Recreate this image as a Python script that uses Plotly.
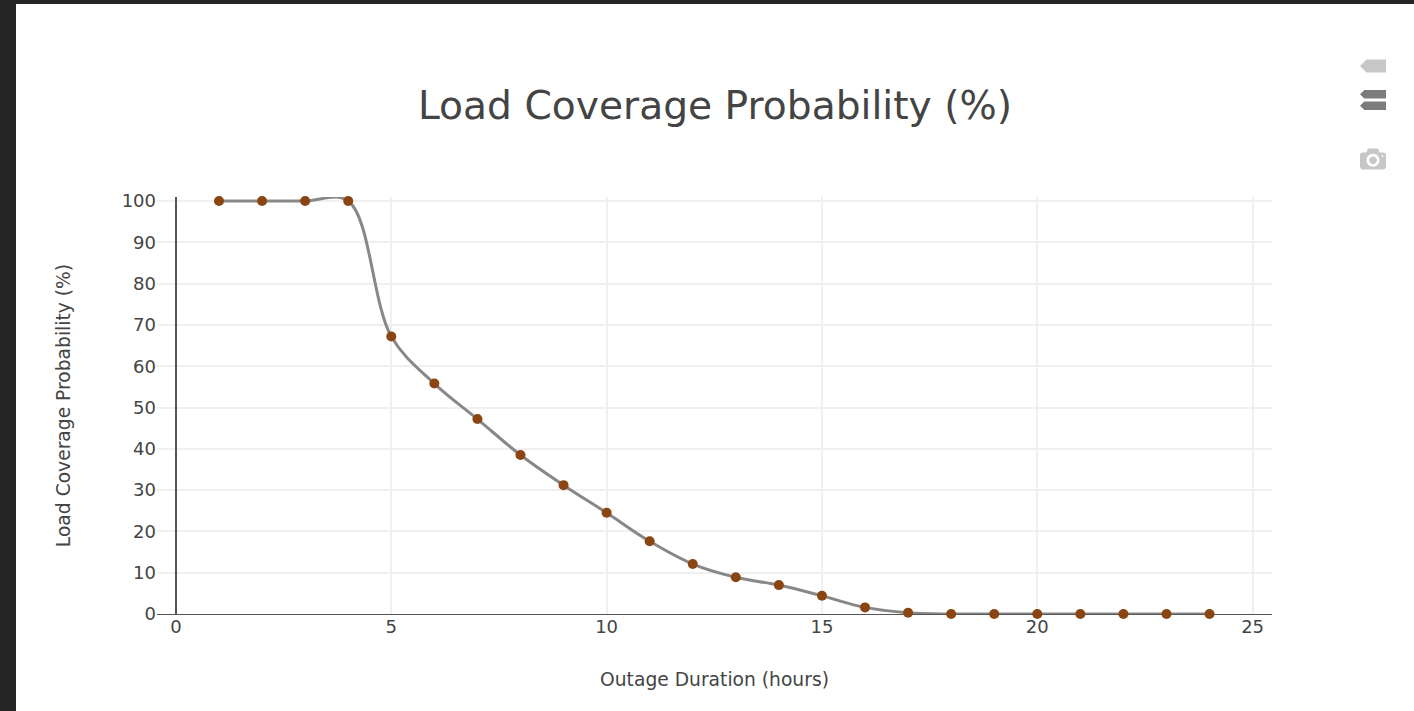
import plotly.graph_objects as go

hours = list(range(1, 25))
coverage = [100, 100, 100, 100, 67.2, 55.8, 47.2, 38.5, 31.2, 24.5, 17.6, 12.1,
            8.9, 7.0, 4.4, 1.6, 0.3, 0, 0, 0, 0, 0, 0, 0]
title_text = "Load Coverage Probability (%)"
x_title = "Outage Duration (hours)"
y_title = "Load Coverage Probability (%)"

fig = go.Figure(go.Scatter(
    x=hours, y=coverage, mode="lines+markers",
    line=dict(color="#888888", width=3, shape="spline"),
    marker=dict(color="#8B4513", size=10),
    cliponaxis=False,
))
font = "DejaVu Sans"
fig.update_layout(
    width=1398, height=707, autosize=False,
    margin=dict(l=141, r=142, t=193, b=96.5),
    paper_bgcolor="white", plot_bgcolor="white",
    font=dict(family=font, color="#444444", size=18),
    title=dict(text=title_text, x=0.5, xanchor="center", y=0.857, yanchor="middle",
               font=dict(size=39.2, family=font, color="#444444")),
    showlegend=False,
    hovermode="x",
    modebar=dict(orientation="v", bgcolor="rgba(255,255,255,0)",
                 color="rgba(68,68,68,0.3)", activecolor="rgba(68,68,68,0.7)"),
    xaxis=dict(title=dict(text=x_title, font=dict(size=18.7), standoff=36),
               range=[-0.44, 25.45], tickvals=[0, 5, 10, 15, 20, 25],
               showgrid=True, gridcolor="#f0f0f0", gridwidth=1.5,
               zeroline=True, zerolinecolor="#555555", zerolinewidth=1.5,
               tickfont=dict(size=18), ticks="", automargin=False),
    yaxis=dict(title=dict(text=y_title, font=dict(size=18.7), standoff=46),
               range=[0, 100.97], tickvals=list(range(0, 101, 10)),
               showgrid=True, gridcolor="#f0f0f0", gridwidth=1.5,
               zeroline=True, zerolinecolor="#555555", zerolinewidth=1,
               tickfont=dict(size=18), ticks="", automargin=False),
)
modebar_css = (
    ".modebar{top:46px !important;right:28px !important;}"
    ".modebar-group{padding:0 !important;margin:0 0 25px 0 !important;display:block !important;}"
    ".modebar-btn{font-size:26px !important;height:34px !important;padding:0 !important;display:block !important;}"
)
fig.write_html(
    "out.html",
    config=dict(displayModeBar=True, displaylogo=False,
                modeBarButtons=[["toImage"], ["hoverClosestCartesian", "hoverCompareCartesian"]]),
    post_script="var s=document.createElement('style');s.textContent=" + repr(modebar_css) + ";"
                "document.head.appendChild(s);"
                "document.documentElement.style.background='#252525';"
                "document.body.style.margin='4px 0 0 16px';"
                "document.body.style.background='#252525';"
                "document.body.style.overflow='hidden';",
)
